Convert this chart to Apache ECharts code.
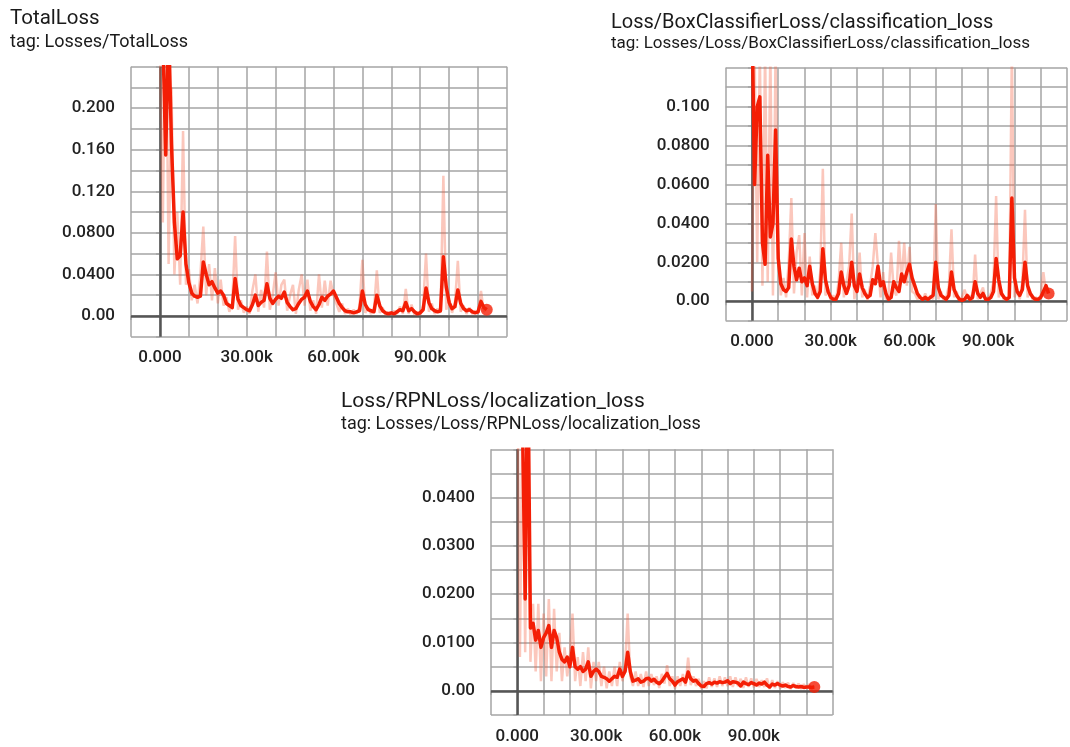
<!DOCTYPE html>
<html>
<head>
<meta charset="utf-8">
<title>Losses</title>
<script src="https://cdn.jsdelivr.net/npm/echarts@6/dist/echarts.min.js"></script>
<style>
  html, body { margin: 0; padding: 0; background: #fff; }
  #chart { width: 1070px; height: 747px; }
</style>
</head>
<body>
<div id="chart"></div>
<script>
// one logged point every 1000 steps, starting at step 0
const STEP = 1000

const X_LABELS = [[0, '0.000'], [30000, '30.00k'], [60000, '60.00k'], [90000, '90.00k']]
const TOTAL_Y_LABELS = [[0, '0.00'], [0.04, '0.0400'], [0.08, '0.0800'], [0.12, '0.120'], [0.16, '0.160'], [0.2, '0.200']]
const CLS_Y_LABELS = [[0, '0.00'], [0.02, '0.0200'], [0.04, '0.0400'], [0.06, '0.0600'], [0.08, '0.0800'], [0.1, '0.100']]
const RPN_Y_LABELS = [[0, '0.00'], [0.01, '0.0100'], [0.02, '0.0200'], [0.03, '0.0300'], [0.04, '0.0400']]

const TOTAL_SMOOTH = [
  0.32, 0.27, 0.155, 0.28, 0.165, 0.09, 0.055, 0.058, 0.10, 0.05,
  0.032, 0.022, 0.019, 0.018, 0.019, 0.052, 0.040, 0.030, 0.033, 0.027,
  0.022, 0.024, 0.020, 0.012, 0.010, 0.008, 0.036, 0.016, 0.010, 0.008,
  0.006, 0.005, 0.011, 0.020, 0.010, 0.013, 0.015, 0.031, 0.017, 0.012,
  0.016, 0.019, 0.017, 0.023, 0.013, 0.009, 0.006, 0.007, 0.012, 0.016,
  0.018, 0.024, 0.014, 0.009, 0.006, 0.011, 0.018, 0.015, 0.019, 0.021,
  0.024, 0.018, 0.012, 0.008, 0.005, 0.004, 0.004, 0.003, 0.004, 0.005,
  0.024, 0.011, 0.006, 0.005, 0.004, 0.020, 0.010, 0.005, 0.003, 0.002,
  0.003, 0.002, 0.004, 0.006, 0.005, 0.013, 0.005, 0.007, 0.004, 0.002,
  0.003, 0.006, 0.027, 0.013, 0.007, 0.005, 0.004, 0.005, 0.057, 0.028,
  0.013, 0.007, 0.009, 0.025, 0.012, 0.007, 0.005, 0.006, 0.004, 0.003,
  0.004, 0.014, 0.008, 0.006
]
const TOTAL_RAW = [
  0.26, 0.09, 0.32, 0.05, 0.22, 0.04, 0.10, 0.03, 0.178, 0.03,
  0.045, 0.015, 0.03, 0.012, 0.04, 0.086, 0.02, 0.05, 0.015, 0.046,
  0.012, 0.035, 0.01, 0.018, 0.004, 0.012, 0.077, 0.006, 0.015, 0.003,
  0.009, 0.002, 0.025, 0.04, 0.004, 0.025, 0.008, 0.062, 0.006, 0.02,
  0.042, 0.01, 0.03, 0.035, 0.005, 0.02, 0.03, 0.002, 0.025, 0.04,
  0.01, 0.035, 0.005, 0.015, 0.002, 0.04, 0.008, 0.034, 0.01, 0.034,
  0.02, 0.012, 0.004, 0.012, 0.002, 0.007, 0.001, 0.006, 0.002, 0.009,
  0.054, 0.003, 0.008, 0.002, 0.006, 0.044, 0.003, 0.008, 0.001, 0.004,
  0.001, 0.005, 0.002, 0.009, 0.002, 0.026, 0.002, 0.011, 0.001, 0.004,
  0.001, 0.01, 0.06, 0.004, 0.012, 0.002, 0.007, 0.003, 0.135, 0.006,
  0.015, 0.003, 0.012, 0.053, 0.004, 0.01, 0.002, 0.008, 0.002, 0.005,
  0.003, 0.024, 0.004, 0.008
]

const CLS_SMOOTH = [
  0.15, 0.06, 0.10, 0.105, 0.03, 0.019, 0.075, 0.033, 0.040, 0.088,
  0.022, 0.009, 0.006, 0.005, 0.007, 0.032, 0.018, 0.011, 0.017, 0.010,
  0.012, 0.008, 0.018, 0.009, 0.004, 0.002, 0.005, 0.027, 0.011, 0.005,
  0.002, 0.001, 0.001, 0.004, 0.015, 0.008, 0.004, 0.008, 0.020, 0.008,
  0.005, 0.014, 0.007, 0.004, 0.002, 0.003, 0.011, 0.009, 0.018, 0.008,
  0.010, 0.004, 0.001, 0.002, 0.010, 0.007, 0.005, 0.014, 0.010, 0.015,
  0.019, 0.012, 0.008, 0.004, 0.002, 0.001, 0.002, 0.001, 0.002, 0.003,
  0.020, 0.007, 0.003, 0.002, 0.001, 0.003, 0.015, 0.006, 0.003, 0.001,
  0.0005, 0.001, 0.003, 0.001, 0.002, 0.010, 0.004, 0.002, 0.004, 0.001,
  0.001, 0.002, 0.005, 0.022, 0.011, 0.004, 0.002, 0.001, 0.002, 0.053,
  0.012, 0.005, 0.003, 0.006, 0.020, 0.008, 0.004, 0.002, 0.001, 0.001,
  0.002, 0.005, 0.008, 0.004
]
const CLS_RAW = [
  0.005, 0.13, 0.02, 0.13, 0.008, 0.13, 0.01, 0.13, 0.003, 0.13,
  0.024, 0.003, 0.012, 0.002, 0.02, 0.053, 0.004, 0.025, 0.034, 0.003,
  0.035, 0.002, 0.023, 0.003, 0.008, 0.001, 0.015, 0.068, 0.003, 0.006,
  0.0005, 0.003, 0.0005, 0.01, 0.03, 0.002, 0.01, 0.018, 0.045, 0.001,
  0.008, 0.025, 0.002, 0.006, 0.0005, 0.008, 0.018, 0.035, 0.018, 0.002,
  0.015, 0.001, 0.003, 0.025, 0.006, 0.003, 0.031, 0.01, 0.03, 0.008,
  0.028, 0.005, 0.004, 0.001, 0.003, 0.0005, 0.004, 0.0005, 0.003, 0.001,
  0.05, 0.001, 0.005, 0.0005, 0.002, 0.008, 0.037, 0.002, 0.005, 0.0005,
  0.002, 0.006, 0.001, 0.003, 0.0005, 0.024, 0.001, 0.004, 0.007, 0.0005,
  0.002, 0.004, 0.01, 0.054, 0.002, 0.006, 0.0005, 0.002, 0.001, 0.13,
  0.002, 0.006, 0.001, 0.01, 0.047, 0.002, 0.005, 0.0005, 0.002, 0.001,
  0.003, 0.015, 0.004, 0.006
]

const RPN_SMOOTH = [
  0.08, 0.06, 0.055, 0.019, 0.07, 0.013, 0.014, 0.0105, 0.0125, 0.009,
  0.011, 0.012, 0.0135, 0.009, 0.0125, 0.011, 0.008, 0.0065, 0.006, 0.007,
  0.005, 0.009, 0.005, 0.0045, 0.005, 0.004, 0.0045, 0.006, 0.003, 0.004,
  0.0045, 0.004, 0.003, 0.0028, 0.0025, 0.002, 0.0025, 0.003, 0.0028, 0.0045,
  0.003, 0.004, 0.008, 0.004, 0.002, 0.0022, 0.0025, 0.0018, 0.002, 0.0025,
  0.0026, 0.002, 0.0024, 0.0018, 0.0015, 0.002, 0.0028, 0.0036, 0.0025, 0.002,
  0.0012, 0.0019, 0.0022, 0.0025, 0.0018, 0.0039, 0.0025, 0.002, 0.0022, 0.0015,
  0.001, 0.0009, 0.0015, 0.0017, 0.0014, 0.0018, 0.0016, 0.0019, 0.0017, 0.0018,
  0.0021, 0.0015, 0.0019, 0.0018, 0.0016, 0.001, 0.0018, 0.0015, 0.0013, 0.0017,
  0.0015, 0.0012, 0.0016, 0.0014, 0.0018, 0.0012, 0.0008, 0.0014, 0.0012, 0.0015,
  0.0012, 0.001, 0.0012, 0.0009, 0.0008, 0.0011, 0.0009, 0.0008, 0.0009, 0.0007,
  0.0008, 0.0008, 0.0007, 0.0008
]
const RPN_RAW = [
  0.07, 0.007, 0.06, 0.008, 0.06, 0.006, 0.018, 0.004, 0.018, 0.002,
  0.016, 0.003, 0.019, 0.002, 0.017, 0.004, 0.012, 0.002, 0.009, 0.003,
  0.007, 0.016, 0.002, 0.007, 0.001, 0.008, 0.002, 0.009, 0.0005, 0.006,
  0.002, 0.006, 0.001, 0.005, 0.0005, 0.004, 0.001, 0.005, 0.001, 0.006,
  0.002, 0.005, 0.016, 0.003, 0.001, 0.004, 0.001, 0.0035, 0.0008, 0.004,
  0.001, 0.0035, 0.0012, 0.003, 0.0006, 0.0035, 0.0015, 0.0053, 0.001, 0.003,
  0.0005, 0.003, 0.001, 0.0035, 0.001, 0.0069, 0.0012, 0.003, 0.001, 0.0025,
  0.0004, 0.002, 0.0005, 0.0028, 0.0008, 0.0026, 0.0008, 0.003, 0.001, 0.0028,
  0.001, 0.003, 0.0008, 0.0028, 0.001, 0.0025, 0.0006, 0.0028, 0.0008, 0.0026,
  0.0007, 0.0025, 0.0008, 0.0022, 0.0008, 0.0026, 0.0004, 0.0022, 0.0006, 0.002,
  0.0005, 0.0018, 0.0006, 0.0017, 0.0004, 0.0016, 0.0005, 0.0015, 0.0004, 0.0014,
  0.0005, 0.0014, 0.0005, 0.0011
]

const RED = '#f41e05'
const PALE = 'rgba(244, 90, 60, 0.34)'
const GRID_COLOR = '#a4a4a4'
const FONT = 'Roboto, "Noto Sans", sans-serif'

const panels = [
  {
    title: 'TotalLoss', tag: 'tag: Losses/TotalLoss',
    smooth: TOTAL_SMOOTH, raw: TOTAL_RAW, yLabels: TOTAL_Y_LABELS,
    yMin: -0.02, yMax: 0.24, yStep: 0.02,
    box: { left: 131, top: 66.7, width: 376, height: 270 },
    head: { left: 10, top: 8, gap: 4, size: 20.5, subSize: 18 }
  },
  {
    title: 'Loss/BoxClassifierLoss/classification_loss', tag: 'tag: Losses/Loss/BoxClassifierLoss/classification_loss',
    smooth: CLS_SMOOTH, raw: CLS_RAW, yLabels: CLS_Y_LABELS,
    yMin: -0.01, yMax: 0.12, yStep: 0.01,
    box: { left: 725.7, top: 67.7, width: 353.6, height: 253 },
    head: { left: 611, top: 13, gap: 2, size: 20, subSize: 17 }
  },
  {
    title: 'Loss/RPNLoss/localization_loss', tag: 'tag: Losses/Loss/RPNLoss/localization_loss',
    smooth: RPN_SMOOTH, raw: RPN_RAW, yLabels: RPN_Y_LABELS,
    yMin: -0.005, yMax: 0.05, yStep: 0.005,
    box: { left: 491, top: 449.3, width: 341.7, height: 265.7 },
    head: { left: 341, top: 391, gap: 3, size: 21, subSize: 18 }
  }
]

function pickLabel(list, tol) {
  return (v) => {
    const hit = list.find((it) => Math.abs(it[0] - v) < tol)
    return hit ? hit[1] : ''
  }
}

const toPoints = (arr) => arr.map((v, i) => [i * STEP, v])

const chart = echarts.init(document.getElementById('chart'))

chart.setOption({
  animation: false,
  backgroundColor: '#fff',
  title: panels.map((p) => ({
    text: p.title,
    subtext: p.tag,
    left: p.head.left,
    top: p.head.top,
    padding: 0,
    itemGap: p.head.gap,
    textStyle: { fontFamily: FONT, fontSize: p.head.size, fontWeight: 'normal', color: '#1a1a1a' },
    subtextStyle: { fontFamily: FONT, fontSize: p.head.subSize, color: '#1a1a1a' }
  })),
  grid: panels.map((p) => ({ ...p.box, containLabel: false })),
  xAxis: panels.map((p, i) => ({
    gridIndex: i,
    type: 'value',
    min: -10000,
    max: 120000,
    interval: 10000,
    axisLine: { show: false },
    axisTick: { show: true, length: 4, lineStyle: { color: GRID_COLOR, width: 1.5 } },
    splitLine: { show: true, lineStyle: { color: GRID_COLOR, width: 1.5 } },
    axisLabel: {
      margin: 13,
      color: '#222',
      fontFamily: FONT,
      fontSize: 17,
      fontWeight: 500,
      showMinLabel: true,
      showMaxLabel: true,
      formatter: pickLabel(X_LABELS, 1)
    }
  })),
  yAxis: panels.map((p, i) => ({
    gridIndex: i,
    type: 'value',
    min: p.yMin,
    max: p.yMax,
    interval: p.yStep,
    axisLine: { show: false },
    axisTick: { show: true, length: 4, lineStyle: { color: GRID_COLOR, width: 1.5 } },
    splitLine: { show: true, lineStyle: { color: GRID_COLOR, width: 1.5 } },
    axisLabel: {
      margin: 16,
      color: '#222',
      fontFamily: FONT,
      fontSize: 17,
      fontWeight: 500,
      showMinLabel: true,
      showMaxLabel: true,
      formatter: pickLabel(p.yLabels, p.yStep / 100)
    }
  })),
  series: panels.flatMap((p, i) => [
    {
      type: 'line',
      xAxisIndex: i,
      yAxisIndex: i,
      data: toPoints(p.raw),
      symbol: 'none',
      silent: true,
      z: 2,
      lineStyle: { color: PALE, width: 2.5 },
      markLine: {
        silent: true,
        z: 1,
        symbol: ['none', 'none'],
        label: { show: false },
        lineStyle: { color: '#555', width: 2.5, type: 'solid' },
        data: [{ xAxis: 0 }, { yAxis: 0 }]
      }
    },
    {
      type: 'line',
      xAxisIndex: i,
      yAxisIndex: i,
      data: toPoints(p.smooth),
      symbol: 'none',
      silent: true,
      z: 3,
      lineStyle: { color: RED, width: 3.5, join: 'round' }
    },
    {
      type: 'scatter',
      xAxisIndex: i,
      yAxisIndex: i,
      data: toPoints(p.smooth).slice(-1),
      symbolSize: 12,
      silent: true,
      z: 4,
      itemStyle: { color: RED }
    }
  ])
})

window.addEventListener('resize', () => chart.resize())
</script>
</body>
</html>
